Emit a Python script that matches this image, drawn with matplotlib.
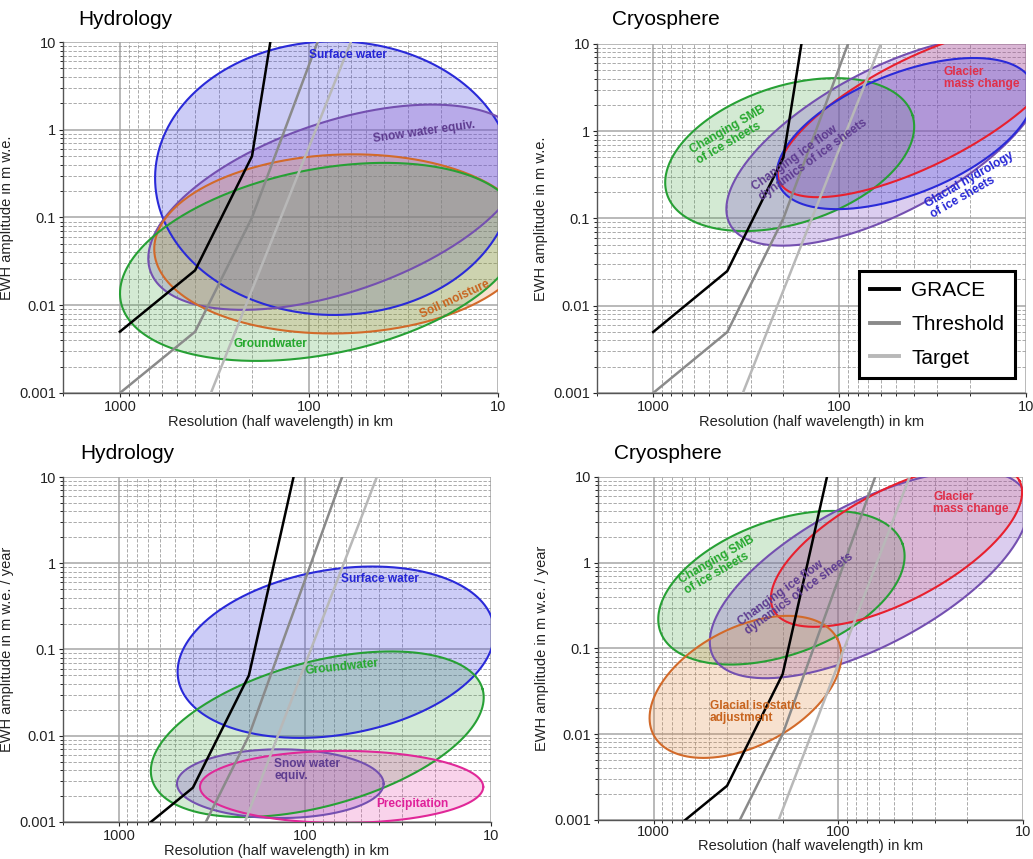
import numpy as np
import matplotlib
matplotlib.use('Agg')
import matplotlib.pyplot as plt
from matplotlib.ticker import FixedLocator, NullFormatter, LogLocator

plt.rcParams['font.family'] = ['Liberation Sans', 'DejaVu Sans']

# ---------------- data ----------------
x_ticks = [1000, 100, 10]
x_tick_labels = ['1000', '100', '10']
y_ticks = [0.001, 0.01, 0.1, 1, 10]
y_tick_labels = ['0.001', '0.01', '0.1', '1', '10']

# mission sensitivity curves: amplitude (m w.e.)
grace_km = [1000, 400, 200, 160]
grace_amp = [0.005, 0.025, 0.5, 10]
threshold_km = [1000, 400, 200, 90]
threshold_amp = [0.001, 0.005, 0.1, 10]
target_km = [330, 60]
target_amp = [0.001, 10]

# mission sensitivity curves: trends (m w.e. / year)
grace_rate_km = [1000, 400, 200, 115]
grace_rate = [0.0005, 0.0025, 0.05, 10]
threshold_rate_km = [1000, 400, 200, 63]
threshold_rate = [0.0001, 0.0005, 0.01, 10]
target_rate_km = [210, 41]
target_rate = [0.001, 10]

# signal ellipses: centre (km, m), semi-axes (decades), tilt (deg)
hyd_amp_names = ['Surface water', 'Snow water equiv.', 'Soil moisture', 'Groundwater']
hyd_amp_km = [73.6, 70.8, 66.5, 86.7]
hyd_amp_val = [0.281, 0.131, 0.05, 0.0312]
hyd_amp_major = [0.947, 1.045, 0.996, 1.078]
hyd_amp_minor = [0.724, 0.450, 0.473, 0.489]
hyd_amp_tilt = [0, 18.8, 2, 11.3]
hyd_amp_label_km = [61.8, 24.7, 16.9, 160]
hyd_amp_label_val = [7.05, 0.95, 0.0117, 0.0036]
hyd_amp_label_rot = [0, 8, 25, 0]

cry_amp_names = ['Changing SMB\nof ice sheets', 'Changing ice flow\ndynamics of ice sheets',
                 'Glacier\nmass change', 'Glacial hydrology\nof ice sheets']
cry_amp_km = [185, 55.8, 36.4, 44.2]
cry_amp_val = [0.54, 0.768, 1.68, 0.94]
cry_amp_major = [0.692, 0.952, 0.849, 0.733]
cry_amp_minor = [0.369, 0.385, 0.289, 0.324]
cry_amp_tilt = [17.9, 27.9, 26.6, 21.8]
cry_amp_label_km = [382, 145, 17.3, 19.4]
cry_amp_label_val = [0.91, 0.536, 4.1, 0.243]
cry_amp_label_rot = [30, 36, 0, 30]

hyd_rate_names = ['Surface water', 'Groundwater', 'Snow water\nequiv.', 'Precipitation']
hyd_rate_km = [68, 85.7, 135.5, 63.4]
hyd_rate_val = [0.093, 0.0104, 0.00278, 0.00255]
hyd_rate_major = [0.861, 0.922, 0.556, 0.762]
hyd_rate_minor = [0.444, 0.388, 0.185, 0.194]
hyd_rate_tilt = [9.7, 15.2, 0, 0]
hyd_rate_label_km = [39.3, 63, 97, 26.4]
hyd_rate_label_val = [0.652, 0.062, 0.00405, 0.0016]
hyd_rate_label_rot = [0, 6, 0, 0]

cry_rate_names = ['Changing SMB\nof ice sheets', 'Changing ice flow\ndynamics of ice sheets',
                  'Glacier\nmass change', 'Glacial isostatic\nadjustment']
cry_rate_km = [203, 68, 48.3, 318]
cry_rate_val = [0.51, 0.73, 1.59, 0.0356]
cry_rate_major = [0.698, 0.955, 0.753, 0.562]
cry_rate_minor = [0.363, 0.387, 0.302, 0.320]
cry_rate_tilt = [20, 27.9, 27.8, 27.6]
cry_rate_label_km = [441, 170, 19.1, 282]
cry_rate_label_val = [0.94, 0.49, 4.97, 0.018]
cry_rate_label_rot = [30, 36, 0, 0]

# ---------------- styles ----------------
STY = {
    'blue':   dict(edge='#2a2ad8', face='#4848e0', alpha=0.28, text='#2626d6'),
    'purple': dict(edge='#7450b0', face='#8a5ccc', alpha=0.30, text='#5e3c90'),
    'orange': dict(edge='#d26a2a', face='#e08a40', alpha=0.25, text='#c8641e'),
    'green':  dict(edge='#27a035', face='#4aa84a', alpha=0.24, text='#26a82e'),
    'red':    dict(edge='#e8202e', face='#d85060', alpha=0.18, text='#e0304a'),
    'pink':   dict(edge='#e02898', face='#e850b0', alpha=0.25, text='#e0209a'),
}

fig = plt.figure(figsize=(10.33, 8.59), dpi=100)
ax_tl = fig.add_axes([0.061, 0.5425, 0.421, 0.4086])
ax_tr = fig.add_axes([0.578, 0.5425, 0.415, 0.4063])
ax_bl = fig.add_axes([0.061, 0.0431, 0.414, 0.4016])
ax_br = fig.add_axes([0.579, 0.0455, 0.411, 0.3993])


def setup(ax, ylabel, title, tx, ty):
    ax.set_xscale('log')
    ax.set_yscale('log')
    ax.set_xlim(2000, 10)
    ax.set_ylim(0.001, 10)
    ax.xaxis.set_major_locator(FixedLocator(x_ticks))
    ax.set_xticklabels(x_tick_labels)
    ax.yaxis.set_major_locator(FixedLocator(y_ticks))
    ax.set_yticklabels(y_tick_labels)
    ax.xaxis.set_minor_locator(LogLocator(base=10, subs=np.arange(2, 10), numticks=20))
    ax.yaxis.set_minor_locator(LogLocator(base=10, subs=np.arange(2, 10), numticks=20))
    ax.xaxis.set_minor_formatter(NullFormatter())
    ax.yaxis.set_minor_formatter(NullFormatter())
    ax.grid(which='major', color='#a6a6a6', lw=1.1, ls='-', zorder=0)
    ax.grid(which='minor', color='#9c9c9c', lw=0.6, ls=(0, (4, 2)), zorder=0)
    ax.set_axisbelow(True)
    for s in ['top', 'right']:
        ax.spines[s].set_visible(False)
    for s in ['left', 'bottom']:
        ax.spines[s].set_color('#555555')
        ax.spines[s].set_linewidth(1.0)
    ax.tick_params(which='major', length=3, width=0.8, labelsize=10.5, pad=2, colors='#222222')
    ax.tick_params(which='minor', length=2, width=0.6)
    ax.set_xlabel('Resolution (half wavelength) in km', fontsize=10.5, labelpad=1, color='#222222')
    ax.set_ylabel(ylabel, fontsize=10.5, labelpad=4, color='#222222')
    ax.text(tx, ty, title, transform=ax.transAxes, fontsize=15, ha='left', va='center')


def ellipse(ax, ckm, cval, a, b, tilt):
    bbox = ax.get_window_extent()
    xl = ax.get_xlim()
    yl = ax.get_ylim()
    px_x = bbox.width / abs(np.log10(xl[0] / xl[1]))
    px_y = bbox.height / abs(np.log10(yl[1] / yl[0]))
    t = np.linspace(0, 2 * np.pi, 500)
    th = np.radians(tilt)
    dx = a * np.cos(t) * np.cos(th) - b * np.sin(t) * np.sin(th)
    dy = (a * np.cos(t) * np.sin(th) + b * np.sin(t) * np.cos(th)) * px_x / px_y
    return 10 ** (np.log10(ckm) - dx), 10 ** (np.log10(cval) + dy)


def draw_ellipses(ax, names, kms, vals, majors, minors, tilts, colors,
                  lkm, lval, lrot):
    paths = [ellipse(ax, k, v, a, b, t) for k, v, a, b, t in zip(kms, vals, majors, minors, tilts)]
    for (xs, ys), c in zip(paths, colors):
        st = STY[c]
        ax.fill(xs, ys, facecolor=st['face'], alpha=st['alpha'], edgecolor='none', zorder=2)
    for (xs, ys), c in zip(paths, colors):
        ax.plot(xs, ys, color=STY[c]['edge'], lw=1.5, zorder=3)
    for n, c, x, y, r in zip(names, colors, lkm, lval, lrot):
        ax.text(x, y, n, color=STY[c]['text'], fontsize=8.6, fontweight='bold',
                rotation=r, ha='center', va='center', multialignment='left',
                rotation_mode='anchor', zorder=6, linespacing=1.0)


def draw_curves(ax, gk, ga, tk, ta, qk, qa, label=False):
    ax.plot(gk, ga, color='black', lw=1.8, zorder=4, label='GRACE' if label else None)
    ax.plot(tk, ta, color='#8a8a8a', lw=1.8, zorder=4, label='Threshold' if label else None)
    ax.plot(qk, qa, color='#b8b8b8', lw=1.8, zorder=4, label='Target' if label else None)


setup(ax_tl, 'EWH amplitude in m w.e.', 'Hydrology', 0.034, 1.063)
setup(ax_tr, 'EWH amplitude in m w.e.', 'Cryosphere', 0.035, 1.069)
setup(ax_bl, 'EWH amplitude in m w.e. / year', 'Hydrology', 0.04, 1.067)
setup(ax_br, 'EWH amplitude in m w.e. / year', 'Cryosphere', 0.038, 1.068)
ax_br.xaxis.labelpad = 0
ax_br.tick_params(axis='x', which='major', pad=1)

draw_ellipses(ax_tl, hyd_amp_names, hyd_amp_km, hyd_amp_val, hyd_amp_major, hyd_amp_minor,
              hyd_amp_tilt, ['blue', 'purple', 'orange', 'green'],
              hyd_amp_label_km, hyd_amp_label_val, hyd_amp_label_rot)
draw_ellipses(ax_tr, cry_amp_names, cry_amp_km, cry_amp_val, cry_amp_major, cry_amp_minor,
              cry_amp_tilt, ['green', 'purple', 'red', 'blue'],
              cry_amp_label_km, cry_amp_label_val, cry_amp_label_rot)
draw_ellipses(ax_bl, hyd_rate_names, hyd_rate_km, hyd_rate_val, hyd_rate_major, hyd_rate_minor,
              hyd_rate_tilt, ['blue', 'green', 'purple', 'pink'],
              hyd_rate_label_km, hyd_rate_label_val, hyd_rate_label_rot)
draw_ellipses(ax_br, cry_rate_names, cry_rate_km, cry_rate_val, cry_rate_major, cry_rate_minor,
              cry_rate_tilt, ['green', 'purple', 'red', 'orange'],
              cry_rate_label_km, cry_rate_label_val, cry_rate_label_rot)

draw_curves(ax_tl, grace_km, grace_amp, threshold_km, threshold_amp, target_km, target_amp)
draw_curves(ax_tr, grace_km, grace_amp, threshold_km, threshold_amp, target_km, target_amp, label=True)
draw_curves(ax_bl, grace_rate_km, grace_rate, threshold_rate_km, threshold_rate, target_rate_km, target_rate)
draw_curves(ax_br, grace_rate_km, grace_rate, threshold_rate_km, threshold_rate, target_rate_km, target_rate)

leg = ax_tr.legend(loc='lower right', bbox_to_anchor=(0.974, 0.043), borderaxespad=0,
                   fontsize=15, frameon=True, fancybox=False, edgecolor='black',
                   handlelength=1.4, handletextpad=0.6, labelspacing=0.7, borderpad=0.5)
leg.get_frame().set_linewidth(2.2)
leg.get_frame().set_alpha(1)
leg.set_zorder(10)
for ln in leg.get_lines():
    ln.set_linewidth(2.8)

fig.savefig('out.png', dpi=100)
